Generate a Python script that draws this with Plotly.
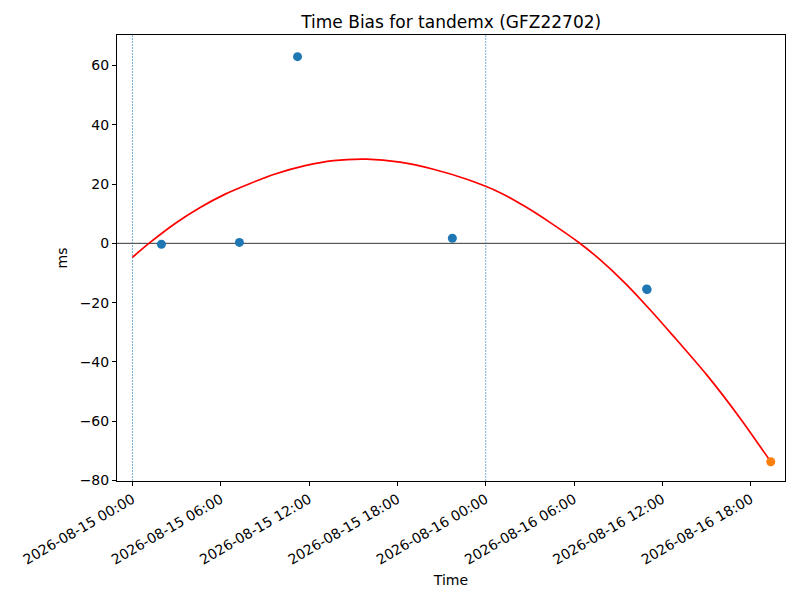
import plotly.graph_objects as go

# Measured time bias (ms)
obs_time = [
    "2026-08-15 01:58", "2026-08-15 07:16", "2026-08-15 11:13",
    "2026-08-15 21:44", "2026-08-16 10:56", "2026-08-16 10:58",
]
obs_bias = [-0.3, 0.3, 63.0, 1.7, -15.4, -15.6]

# Latest point
last_time = ["2026-08-16 19:22"]
last_bias = [-73.7]

# Fitted curve
fit_time = [
    "2026-08-15 00:00", "2026-08-15 01:12", "2026-08-15 02:54", "2026-08-15 04:36",
    "2026-08-15 06:18", "2026-08-15 08:00", "2026-08-15 09:42", "2026-08-15 11:44",
    "2026-08-15 13:39", "2026-08-15 15:55", "2026-08-15 18:11", "2026-08-15 20:27",
    "2026-08-15 22:43", "2026-08-16 00:59", "2026-08-16 02:41", "2026-08-16 04:23",
    "2026-08-16 06:21", "2026-08-16 07:46", "2026-08-16 09:28", "2026-08-16 11:10",
    "2026-08-16 12:45", "2026-08-16 15:01", "2026-08-16 17:17", "2026-08-16 19:22",
]
fit_bias = [
    -4.7, 0.3, 6.7, 12.1,
    16.6, 20.2, 23.4, 26.2,
    27.9, 28.4, 27.4, 25.0,
    21.6, 17.1, 12.4, 7.0,
    0.2, -5.5, -13.4, -22.4,
    -31.3, -44.4, -59.0, -73.7,
]

# Day boundaries
day_marks = ["2026-08-15 00:00", "2026-08-16 00:00"]

x_range = ["2026-08-14 22:57", "2026-08-16 20:20"]
y_range = [-80.2, 70.3]
y_ticks = [-80, -60, -40, -20, 0, 20, 40, 60]

font = "DejaVu Sans"

fig = go.Figure()

# zero line
fig.add_shape(type="line", xref="paper", yref="y", x0=0, x1=1, y0=0, y1=0,
              line=dict(color="black", width=0.8), layer="below")

# day boundary lines
for d in day_marks:
    fig.add_shape(type="line", xref="x", yref="paper", x0=d, x1=d, y0=0, y1=1,
                  line=dict(color="#1f77b4", width=0.6, dash="2px,1px"), layer="below")

fig.add_trace(go.Scatter(
    x=fit_time, y=fit_bias, mode="lines",
    line=dict(color="red", width=1.7, shape="spline", smoothing=0.7),
    showlegend=False, hoverinfo="skip"
))

fig.add_trace(go.Scatter(
    x=obs_time, y=obs_bias, mode="markers",
    marker=dict(color="#1f77b4", size=9),
    showlegend=False
))

fig.add_trace(go.Scatter(
    x=last_time, y=last_bias, mode="markers",
    marker=dict(color="#ff7f0e", size=9),
    showlegend=False
))

# the page body adds 8px on top/left, so margins are shifted by that
fig.update_layout(
    width=800, height=600,
    paper_bgcolor="white", plot_bgcolor="white",
    font=dict(family=font, size=14, color="black"),
    margin=dict(l=109, r=23, t=27, b=127),
    title=dict(text="Time Bias for tandemx (GFZ22702)", x=0.554, xanchor="center",
               y=0.977, yanchor="middle", font=dict(size=17, family=font)),
    xaxis=dict(
        type="date", range=x_range,
        tick0="2026-08-15 00:00", dtick=6 * 3600 * 1000,
        tickformat="%Y-%m-%d %H:%M", tickangle=-30,
        showline=True, mirror=True, linecolor="black", linewidth=1,
        ticks="outside", ticklen=4, tickcolor="black",
        showgrid=False, zeroline=False,
        title=dict(text="Time", font=dict(size=14), standoff=8),
    ),
    yaxis=dict(
        range=y_range, tickvals=y_ticks,
        showline=True, mirror=True, linecolor="black", linewidth=1,
        ticks="outside", ticklen=4, tickcolor="black",
        showgrid=False, zeroline=False,
        title=dict(text="ms", font=dict(size=14), standoff=8),
    ),
)

fig.write_html("out.html")
